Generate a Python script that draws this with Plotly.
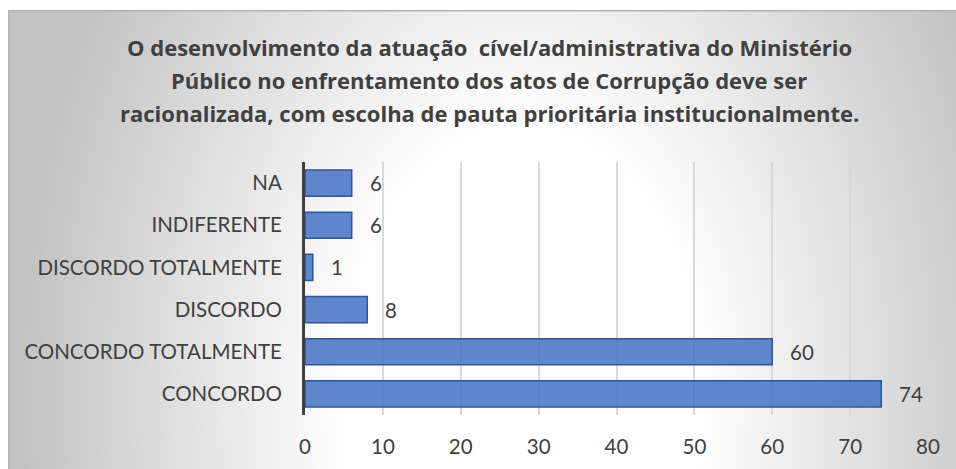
import base64
import plotly.graph_objects as go

# ---- data ----
categories = ["CONCORDO", "CONCORDO TOTALMENTE", "DISCORDO",
              "DISCORDO TOTALMENTE", "INDIFERENTE", "NA"]
values = [74, 60, 8, 1, 6, 6]
x_ticks = [0, 10, 20, 30, 40, 50, 60, 70, 80]
title_lines = [
    "O desenvolvimento da atuação  cível/administrativa do Ministério",
    "Público no enfrentamento dos atos de Corrupção deve ser",
    "racionalizada, com escolha de pauta prioritária institucionalmente.",
]

# ---- layout geometry ----
W, H = 956, 469
ML, MR, MT, MB = 305, 28, 162, 54
PW, PH = W - ML - MR, H - MT - MB
BX0, BY0, BW, BH = 8, 10, W - 8, H - 10  # chart-area box in pixels

FONT = "Lato"
TITLE_FONT = "Open Sans"
TXT = "#404040"


def px_to_paper_x(px):
    return (px - ML) / PW


def px_to_paper_y(py):
    return (H - MB - py) / PH


svg = f'''<svg xmlns="http://www.w3.org/2000/svg" width="{BW}" height="{BH}" viewBox="0 0 {BW} {BH}" preserveAspectRatio="none">
<defs>
<radialGradient id="g" gradientUnits="userSpaceOnUse" cx="0" cy="0" r="1"
 gradientTransform="translate(515,390) scale(505,760)">
<stop offset="0" stop-color="#ffffff"/>
<stop offset="0.35" stop-color="#ffffff"/>
<stop offset="1" stop-color="#c2c2c2"/>
</radialGradient>
</defs>
<rect x="0" y="0" width="{BW}" height="{BH}" fill="url(#g)"/>
<rect x="0.75" y="0.75" width="{BW}" height="{BH}" fill="none" stroke="#b3b3b3" stroke-width="1.5"/>
</svg>'''
bg_uri = "data:image/svg+xml;base64," + base64.b64encode(svg.encode()).decode()

fig = go.Figure()
fig.add_trace(go.Bar(
    x=values, y=categories, orientation="h",
    marker=dict(color="rgba(68,114,196,0.85)",
                line=dict(color="#2F5597", width=1.5)),
    hoverinfo="x+y",
))

annotations = []
for c, v in zip(categories, values):
    annotations.append(dict(
        x=v, y=c, xref="x", yref="y", text=str(v), showarrow=False,
        xanchor="left", yanchor="middle", xshift=16,
        font=dict(family=FONT, size=20.5, color=TXT),
    ))

title_centers_px = [47, 80, 113]
for line, cy in zip(title_lines, title_centers_px):
    annotations.append(dict(
        x=px_to_paper_x(489), y=px_to_paper_y(cy), xref="paper", yref="paper",
        text=f"<b>{line}</b>", showarrow=False,
        xanchor="center", yanchor="middle",
        font=dict(family=TITLE_FONT, size=22, color=TXT),
    ))

fig.update_layout(
    width=W, height=H,
    margin=dict(l=ML, r=MR, t=MT, b=MB, pad=0),
    paper_bgcolor="white",
    plot_bgcolor="rgba(0,0,0,0)",
    showlegend=False,
    bargap=0.38,
    font=dict(family=FONT, size=20.5, color=TXT),
    annotations=annotations,
    images=[dict(
        source=bg_uri, xref="paper", yref="paper",
        x=px_to_paper_x(BX0), y=px_to_paper_y(BY0),
        sizex=BW / PW, sizey=BH / PH,
        xanchor="left", yanchor="top", sizing="stretch", layer="below",
    )],
    xaxis=dict(
        range=[0, 80], tickvals=x_ticks, ticktext=[str(t) for t in x_ticks],
        showgrid=True, gridcolor="#d9d9d9", gridwidth=1.5,
        zeroline=False, showline=False, ticks="",
        ticklabelstandoff=17,
        tickfont=dict(family=FONT, size=20.5, color=TXT),
        fixedrange=True,
    ),
    yaxis=dict(
        type="category", categoryorder="array", categoryarray=categories,
        showgrid=False, zeroline=False,
        showline=True, linecolor="#404040", linewidth=3,
        ticks="", ticklabelstandoff=16,
        tickfont=dict(family=FONT, size=20.5, color=TXT),
        fixedrange=True,
    ),
)

fig.write_html("out.html", config={"displayModeBar": False},
               post_script="document.body.style.margin='0';document.body.style.overflow='hidden';")
